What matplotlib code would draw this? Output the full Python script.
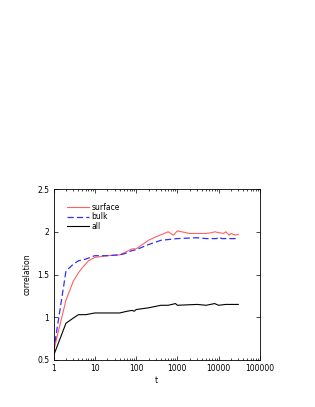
import numpy as np
import matplotlib
matplotlib.use("Agg")
import matplotlib.pyplot as plt
from matplotlib.ticker import LogLocator, NullFormatter, FixedLocator

# surface
surf_t = [1, 2, 3, 4, 5, 7, 10, 20, 40, 60, 80, 100, 200, 300, 600, 800, 1000, 2000,
          3000, 5000, 7000, 8000, 10000, 13000, 15000, 18000, 20000, 25000, 30000]
surf_c = [0.6, 1.2, 1.42, 1.52, 1.58, 1.66, 1.70, 1.72, 1.73, 1.77, 1.80, 1.80, 1.90, 1.94,
          2.0, 1.96, 2.01, 1.98, 1.98, 1.98, 1.99, 2.0, 1.99, 1.98, 2.0, 1.96, 1.98, 1.96, 1.97]

# bulk
bulk_t = [1, 2, 3, 4, 6, 10, 20, 40, 50, 80, 100, 200, 400, 1000, 3000, 5000, 9000,
          10000, 12000, 20000, 30000]
bulk_c = [0.6, 1.54, 1.62, 1.66, 1.68, 1.72, 1.72, 1.73, 1.74, 1.78, 1.79, 1.85, 1.90,
          1.92, 1.93, 1.92, 1.92, 1.94, 1.92, 1.92, 1.92]

# all
all_t = [1, 2, 3, 4, 6, 10, 20, 40, 60, 80, 90, 100, 200, 400, 600, 900, 1000, 3000,
         5000, 8000, 10000, 15000, 30000]
all_c = [0.55, 0.93, 0.99, 1.03, 1.03, 1.05, 1.05, 1.05, 1.07, 1.08, 1.07, 1.09, 1.11,
         1.14, 1.14, 1.16, 1.14, 1.15, 1.14, 1.16, 1.14, 1.15, 1.15]

plt.rcParams['font.family'] = ['DejaVu Sans']
fig = plt.figure(figsize=(3.15, 4.07), dpi=100)
ax = fig.add_axes([0.170, 0.1155, 0.655, 0.4201])

ax.plot(surf_t, surf_c, color='#ff6060', lw=0.8, label='surface')
ax.plot(bulk_t, bulk_c, color='#3030ff', lw=0.9, ls=(0, (5, 2.5)), label='bulk')
ax.plot(all_t, all_c, color='black', lw=0.8, label='all')

ax.set_xscale('log')
ax.set_xlim(1, 100000)
ax.set_ylim(0.5, 2.5)
ax.xaxis.set_major_locator(FixedLocator([1, 10, 100, 1000, 10000, 100000]))
ax.set_xticklabels(['1', '10', '100', '1000', '10000', '100000'])
ax.xaxis.set_minor_locator(LogLocator(base=10, subs=np.arange(2, 10)))
ax.xaxis.set_minor_formatter(NullFormatter())
ax.set_yticks([0.5, 1, 1.5, 2, 2.5])
ax.set_yticklabels(['0.5', '1', '1.5', '2', '2.5'])

ax.tick_params(which='both', direction='in', top=True, right=True, labelsize=5.5,
               width=0.5, pad=3)
ax.tick_params(which='major', length=3)
ax.tick_params(which='minor', length=1.5)
for s in ax.spines.values():
    s.set_linewidth(0.6)

ax.set_xlabel('t', fontsize=5.5, labelpad=2)
ax.set_ylabel('correlation', fontsize=5.5, labelpad=4)

ax.legend(loc='upper left', bbox_to_anchor=(0.04, 0.95), frameon=False, fontsize=5.5,
          handlelength=2.8, handletextpad=0.4, labelspacing=0.05, borderpad=0.2)

fig.savefig('out.png', dpi=100)
